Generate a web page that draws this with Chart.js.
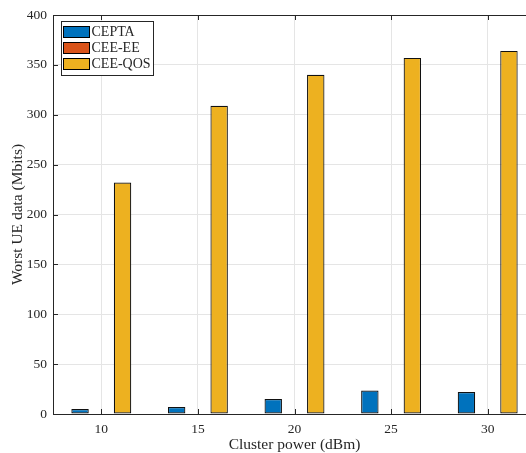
<!DOCTYPE html>
<html lang="en">
<head>
    <meta charset="UTF-8">
    <title>Worst UE data</title>
    <style>
        body {
            margin: 0;
            padding: 0;
            background: #fff;
            overflow: hidden;
        }
        #wrap {
            width: 526px;
            height: 453px;
            overflow: hidden;
        }
        #chart-container {
            width: 536px;
            height: 453px;
        }
    </style>
</head>
<body>
    <div id="wrap">
        <div id="chart-container">
            <canvas id="ueChart"></canvas>
        </div>
    </div>

    <script src="https://cdn.jsdelivr.net/npm/chart.js"></script>
    <script>
        var powers = ['10', '15', '20', '25', '30'];
        var cepta = [5, 7, 15, 23.5, 22];
        var ceeEe = [0, 0, 0, 0, 0];
        var ceeQos = [232, 309, 340, 357, 364];
        var yTicks = [0, 50, 100, 150, 200, 250, 300, 350, 400];

        var serif = '"Liberation Serif", "Times New Roman", serif';
        var axisColor = '#262626';

        // MATLAB-like box, inward ticks and legend drawn inside the axes
        var matlabAxes = {
            id: 'matlabAxes',
            afterDraw: function (chart) {
                var c = chart.ctx;
                var a = chart.chartArea;
                var xs = chart.scales.x, ys = chart.scales.y;
                c.save();
                c.strokeStyle = axisColor;
                c.lineWidth = 1;
                c.beginPath();
                c.moveTo(a.left + 0.5, a.bottom + 0.5);
                c.lineTo(a.left + 0.5, a.top + 0.5);
                c.lineTo(a.right, a.top + 0.5);
                c.moveTo(a.left, a.bottom + 0.5);
                c.lineTo(a.right, a.bottom + 0.5);
                xs.ticks.forEach(function (t, i) {
                    var px = Math.round(xs.getPixelForTick(i)) + 0.5;
                    c.moveTo(px, a.bottom);
                    c.lineTo(px, a.bottom - 5);
                    c.moveTo(px, a.top);
                    c.lineTo(px, a.top + 5);
                });
                ys.ticks.forEach(function (t, i) {
                    var py = Math.round(ys.getPixelForTick(i)) + 0.5;
                    c.moveTo(a.left, py);
                    c.lineTo(a.left + 5, py);
                });
                c.stroke();

                // legend box
                var bx = 61.5, by = 21.5, bw = 92, bh = 54;
                c.fillStyle = '#fff';
                c.fillRect(bx, by, bw, bh);
                c.strokeStyle = axisColor;
                c.strokeRect(bx, by, bw, bh);
                c.font = '14px ' + serif;
                c.textBaseline = 'middle';
                chart.data.datasets.forEach(function (ds, i) {
                    var ry = 26.5 + i * 16;
                    c.fillStyle = ds.backgroundColor;
                    c.fillRect(63.5, ry, 26, 11);
                    c.strokeStyle = '#000';
                    c.strokeRect(63.5, ry, 26, 11);
                    c.fillStyle = axisColor;
                    c.fillText(ds.label, 91.5, ry + 6);
                });
                c.restore();
            }
        };

        var ctx = document.getElementById('ueChart').getContext('2d');
        var ueChart = new Chart(ctx, {
            type: 'bar',
            data: {
                labels: powers,
                datasets: [
                    {
                        label: 'CEPTA',
                        data: cepta,
                        backgroundColor: '#0072BD',
                        borderColor: '#111',
                        borderWidth: 1.2,
                        borderSkipped: false
                    },
                    {
                        label: 'CEE-EE',
                        data: ceeEe,
                        backgroundColor: '#D95319',
                        borderColor: '#111',
                        borderWidth: 1.2,
                        borderSkipped: false
                    },
                    {
                        label: 'CEE-QOS',
                        data: ceeQos,
                        backgroundColor: '#EDB120',
                        borderColor: '#111',
                        borderWidth: 1.2,
                        borderSkipped: false
                    }
                ]
            },
            options: {
                responsive: true,
                maintainAspectRatio: false,
                animation: false,
                categoryPercentage: 0.66,
                barPercentage: 0.82,
                layout: {
                    padding: { top: 15, right: 0, left: 0, bottom: 0 }
                },
                plugins: {
                    legend: { display: false },
                    tooltip: { enabled: false }
                },
                scales: {
                    x: {
                        offset: true,
                        grid: {
                            offset: false,
                            color: '#e5e5e5',
                            drawTicks: false
                        },
                        border: { display: false },
                        ticks: {
                            color: axisColor,
                            font: { family: serif, size: 13.5 },
                            padding: 7,
                            maxRotation: 0
                        },
                        title: {
                            display: true,
                            text: 'Cluster power (dBm)',
                            color: axisColor,
                            font: { family: serif, size: 15.5, lineHeight: 1 },
                            padding: { top: 5, bottom: 0 }
                        },
                        afterFit: function (scale) { scale.height = 39; }
                    },
                    y: {
                        min: 0,
                        max: 400,
                        afterBuildTicks: function (scale) {
                            scale.ticks = yTicks.map(function (v) { return { value: v }; });
                        },
                        grid: {
                            color: '#e5e5e5',
                            drawTicks: false
                        },
                        border: { display: false },
                        ticks: {
                            color: axisColor,
                            font: { family: serif, size: 13.5 },
                            padding: 6
                        },
                        title: {
                            display: true,
                            text: 'Worst UE data (Mbits)',
                            color: axisColor,
                            font: { family: serif, size: 15.5, lineHeight: 1 },
                            padding: { top: 10, bottom: 0 }
                        },
                        afterFit: function (scale) { scale.width = 53; }
                    }
                }
            },
            plugins: [matlabAxes]
        });
    </script>
</body>
</html>
